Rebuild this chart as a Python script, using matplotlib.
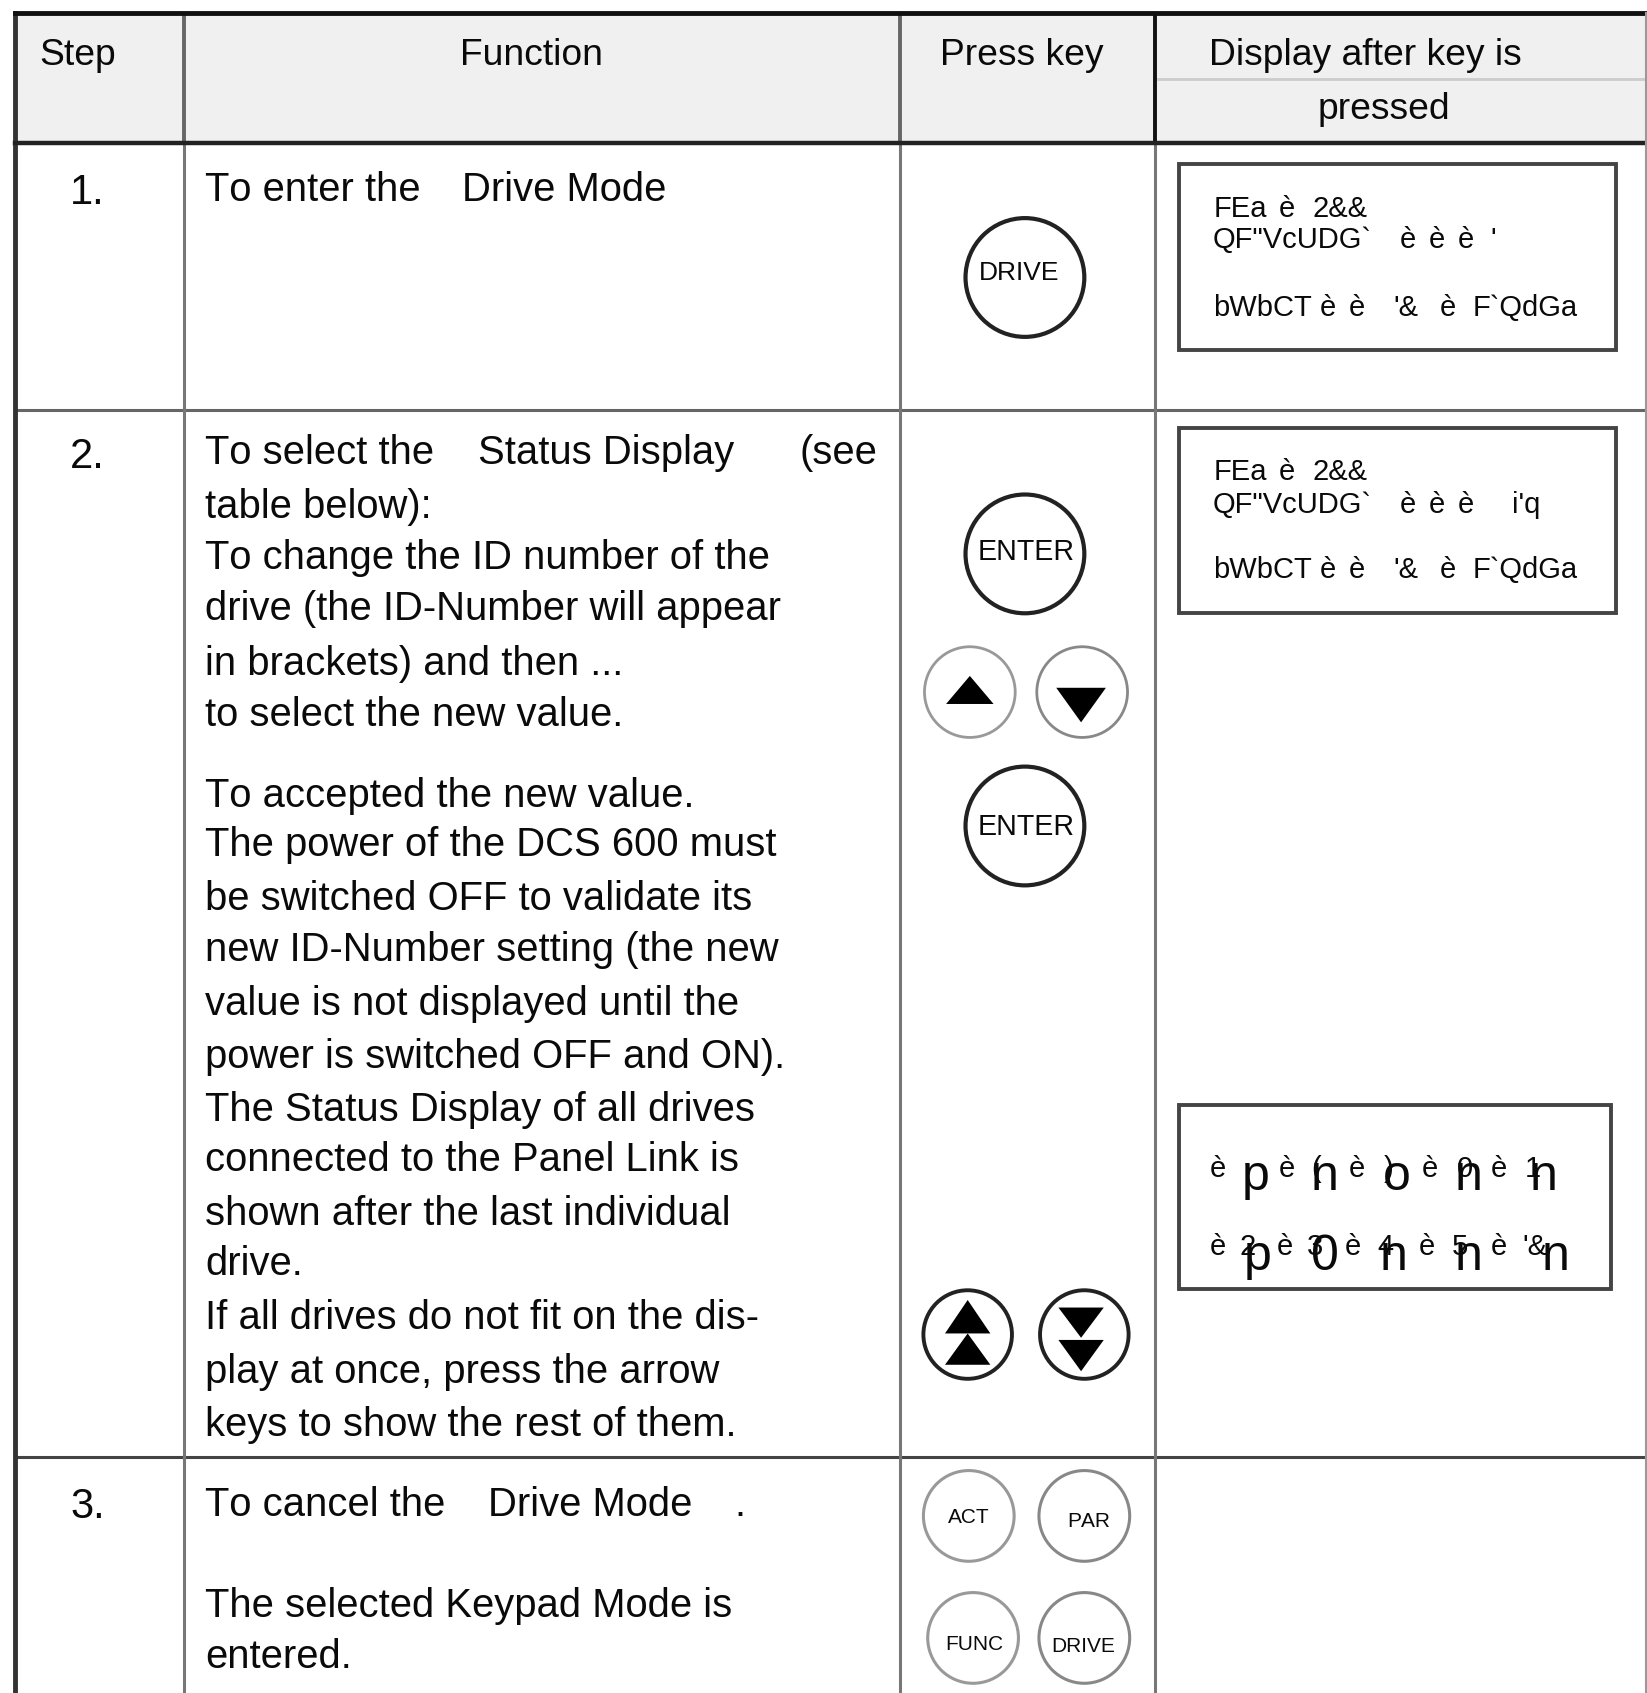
import matplotlib
matplotlib.use('Agg')
import matplotlib.pyplot as plt
from matplotlib.patches import Circle, Polygon, Rectangle

plt.rcParams['font.family'] = ['Liberation Sans', 'DejaVu Sans']
plt.rcParams['text.kerning_factor'] = 6  # the original has no kerning ("To" is wide)

# --- TABLE CONTENT ---
headers = ['Step', 'Function', 'Press key', 'Display after key is', 'pressed']
steps = ['1.', '2.', '3.']

function_lines = [
    'To enter the', 'Drive Mode',
    'To select the', 'Status Display', '(see',
    'table below):',
    'To change the ID number of the',
    'drive (the ID-Number will appear',
    'in brackets) and then ...',
    'to select the new value.',
    'To accepted the new value.',
    'The power of the DCS 600 must',
    'be switched OFF to validate its',
    'new ID-Number setting (the new',
    'value is not displayed until the',
    'power is switched OFF and ON).',
    'The Status Display of all drives',
    'connected to the Panel Link is',
    'shown after the last individual',
    'drive.',
    'If all drives do not fit on the dis-',
    'play at once, press the arrow',
    'keys to show the rest of them.',
    'To cancel the', 'Drive Mode', '.',
    'The selected Keypad Mode is',
    'entered.',
]

display_1 = ['FEa', 'è', '2&&', 'QF"VcUDG`', 'è', 'è', 'è', "'",
             'bWbCT', 'è', 'è', "'&", 'è', 'F`QdGa']
display_2 = ['FEa', 'è', '2&&', 'QF"VcUDG`', 'è', 'è', 'è', "i'q",
             'bWbCT', 'è', 'è', "'&", 'è', 'F`QdGa']
display_3_small = ['è', 'è', '(', 'è', ')', 'è', '0', 'è', '1',
                   'è', '2', 'è', '3', 'è', '4', 'è', '5', 'è', "'&"]
display_3_big = ['p', 'n', 'o', 'n', 'n', 'p', '0', 'n', 'n', 'n']

key_labels = ['DRIVE', 'ENTER', 'ENTER', 'ACT', 'PAR', 'FUNC', 'DRIVE']

# --- LAYOUT (pixels of the shrunk view) ---
W, H = 1525, 1568
col_x = [170, 833, 1069]
func_x = [190, 428,
          190, 443, 740,
          190, 190, 190, 190, 190, 190, 190, 190, 190, 190, 190, 190, 190, 190, 190, 190, 190, 190,
          190, 452, 680,
          190, 190]
func_y = [186, 186,
          430, 430, 430,
          480, 527, 574, 625, 672, 747, 793, 843, 890, 940, 989, 1038, 1085, 1135, 1181, 1231, 1281, 1330,
          1404, 1404, 1404,
          1498, 1545]

disp_x = [1124, 1184, 1215, 1123, 1296, 1323, 1350, 1380,
          1123, 1222, 1249, 1290, 1333, 1364]
disp1_y = [201, 201, 201, 230, 230, 230, 230, 230, 293, 293, 293, 293, 293, 293]
disp2_y = [445, 445, 445, 475, 475, 475, 475, 475, 535, 535, 535, 535, 535, 535]
disp2_x = disp_x[:7] + [1400] + disp_x[8:]

small3_x = [1120, 1184, 1214, 1249, 1281, 1316, 1349, 1380, 1412,
            1120, 1148, 1182, 1210, 1245, 1275, 1314, 1344, 1380, 1410]
small3_y = [1090] * 9 + [1162] * 10
big3_x = [1150, 1214, 1280, 1347, 1416, 1152, 1214, 1277, 1347, 1427]
big3_y = [1102, 1102, 1102, 1102, 1102, 1176, 1176, 1176, 1176, 1176]

fig = plt.figure(figsize=(16.47, 16.93), dpi=100)
ax = fig.add_axes([0, 0, 1, 1])
ax.set_xlim(0, W)
ax.set_ylim(H, 0)
ax.axis('off')

# --- HEADER ---
ax.add_patch(Rectangle((14, 12), W - 14, 120, fc='#f0f0f0', ec='none', zorder=0))
ax.plot([1072, W], [73, 73], color='#cccccc', lw=2, zorder=1)

# --- GRID ---
ax.plot([14, W], [380, 380], color='#666666', lw=2.2, zorder=2)
ax.plot([14, W], [1349, 1349], color='#444444', lw=2.2, zorder=2)
for x in col_x:
    ax.plot([x, x], [132, H], color='#777777', lw=2.2, zorder=2)
    ax.plot([x, x], [14, 132], color='#666666' if x != 1069 else '#111111', lw=2.8, zorder=2)
ax.plot([14, 14], [12, H], color='#333333', lw=3.5, zorder=3)
ax.plot([14, W], [12, 12], color='#111111', lw=3.5, zorder=3)
ax.plot([14, W], [132, 132], color='#222222', lw=3.2, zorder=3)
ax.plot([W - 1, W - 1], [12, H], color='#999999', lw=1.5, zorder=3)


def write(x, y, s, size=28.8, ha='left'):
    ax.text(x, y, s, fontsize=size, ha=ha, va='baseline', color='#0a0a0a', zorder=5)


for x, s in zip([36, 426, 870, 1119], headers[:4]):
    write(x, 60, s, size=26.8)
write(1220, 110, headers[4], size=26.8)

for y, s in zip([189, 433, 1406], steps):
    write(65, y, s, size=30)

for x, y, s in zip(func_x, func_y, function_lines):
    write(x, y, s)

# --- DISPLAY BOXES ---
for x0, y0, x1, y1 in [(1092, 152, 1496, 324), (1092, 396, 1496, 568), (1092, 1023, 1492, 1194)]:
    ax.add_patch(Rectangle((x0, y0), x1 - x0, y1 - y0, fc='white', ec='#444444', lw=2.8, zorder=3))

for x, y, s in zip(disp_x, disp1_y, display_1):
    write(x, y, s, size=21)
for x, y, s in zip(disp2_x, disp2_y, display_2):
    write(x, y, s, size=21)
for x, y, s in zip(small3_x, small3_y, display_3_small):
    write(x, y, s, size=21)
for x, y, s in zip(big3_x, big3_y, display_3_big):
    write(x, y, s, size=36)


# --- KEYS ---
def key(cx, cy, r, color='#222222', lw=3.0):
    ax.add_patch(Circle((cx, cy), r, fc='white', ec=color, lw=lw, zorder=3))


def triangle(cx, base, tip, half):
    ax.add_patch(Polygon([(cx - half, base), (cx + half, base), (cx, tip)], fc='black', ec='none', zorder=4))


key(949, 257, 55)
key(949, 513, 55)
key(949, 765, 55)
key(898, 641, 42, '#999999', 2.0)
key(1002, 641, 42, '#888888', 2.0)
key(896, 1236, 41, lw=2.8)
key(1004, 1236, 41, lw=2.8)
key(897, 1404, 42, '#999999', 2.2)
key(1004, 1404, 42, '#888888', 2.2)
key(901, 1517, 42, '#999999', 2.2)
key(1004, 1517, 42, '#888888', 2.2)

triangle(898, 652, 626, 22)
triangle(1001, 637, 669, 23)
triangle(896, 1235, 1204, 21)
triangle(896, 1264, 1235, 21)
triangle(1001, 1211, 1239, 21)
triangle(1001, 1241, 1270, 21)

for x, y, s, size in zip([944, 950, 950, 897, 1008, 902, 1003], [259, 519, 773, 1411, 1414, 1528, 1530],
                         key_labels, [19, 20.6, 20.6, 15, 15, 15, 15]):
    write(x, y, s, size=size, ha='center')

fig.savefig('out.png', dpi=100, facecolor='white')
